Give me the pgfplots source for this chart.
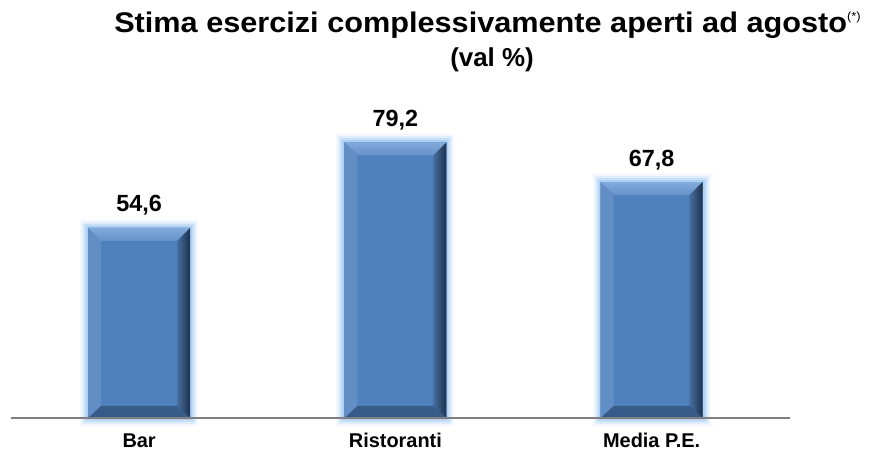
\documentclass[border=0pt]{standalone}
\usepackage{pgfplots}
\usepackage{pgfplotstable}
\pgfplotsset{compat=1.18}
\usepackage{fontspec}
\setmainfont{Liberation Sans}
\definecolor{barface}{RGB}{79,129,189}
\definecolor{bevtop}{RGB}{130,170,220}
\definecolor{bevtopin}{RGB}{100,145,200}
\definecolor{bevleft}{RGB}{98,142,198}
\definecolor{bevright}{RGB}{30,48,74}
\definecolor{bevrightin}{RGB}{70,110,160}
\definecolor{bevbot}{RGB}{56,92,138}
\definecolor{glowc}{RGB}{150,195,240}
\definecolor{axisgray}{RGB}{128,128,128}
\pgfplotstableread{
x y
0 54.6
1 79.2
2 67.8
}\datatable
\newcommand\bevelbar[2]{%
  \shade[top color=bevtop, bottom color=bevtopin] ([xshift=-51bp]axis cs:#1,#2) -- ([xshift=51bp]axis cs:#1,#2)
     -- ([xshift=38bp,yshift=-13bp]axis cs:#1,#2) -- ([xshift=-38bp,yshift=-13bp]axis cs:#1,#2) -- cycle;
  \fill[bevleft] ([xshift=-51bp]axis cs:#1,#2) -- ([xshift=-38bp,yshift=-13bp]axis cs:#1,#2)
     -- ([xshift=-38bp,yshift=12bp]axis cs:#1,0) -- ([xshift=-51bp]axis cs:#1,0) -- cycle;
  \shade[left color=bevrightin, right color=bevright] ([xshift=51bp]axis cs:#1,#2) -- ([xshift=38bp,yshift=-13bp]axis cs:#1,#2)
     -- ([xshift=38bp,yshift=12bp]axis cs:#1,0) -- ([xshift=51bp]axis cs:#1,0) -- cycle;
  \fill[bevbot] ([xshift=-51bp]axis cs:#1,0) -- ([xshift=-38bp,yshift=12bp]axis cs:#1,0)
     -- ([xshift=38bp,yshift=12bp]axis cs:#1,0) -- ([xshift=51bp]axis cs:#1,0) -- cycle;
}
\begin{document}
\begin{tikzpicture}[x=1bp,y=1bp]
\useasboundingbox (0,0) rectangle (875,457);
\node[anchor=base,font=\fontsize{28.5}{32}\selectfont\bfseries, inner sep=0pt, xscale=1.08] at (487.5,424)
  {Stima esercizi complessivamente aperti ad agosto\raisebox{12bp}{\fontsize{12}{14}\selectfont\mdseries(*)}};
\node[anchor=base,font=\fontsize{26}{30}\selectfont\bfseries, inner sep=0pt] at (492,390.5) {(val \%)};
\begin{axis}[
  at={(11bp,39bp)}, anchor=south west,
  scale only axis, width=779bp, height=348bp,
  xmin=-0.5, xmax=2.54, ymin=0, ymax=100,
  axis x line=bottom, axis y line=none,
  axis line style={draw=axisgray, line width=1.5bp, -},
  xtick=data, xticklabels={Bar,Ristoranti,Media P.E.},
  major tick length=0pt,
  xticklabel style={font=\fontsize{20}{24}\selectfont\bfseries, anchor=base, yshift=-30bp},
  ybar, bar width=102bp,
  nodes near coords,
  every node near coord/.append style={font=\fontsize{23.5}{27}\selectfont\bfseries, anchor=base, yshift=16bp,
     /pgf/number format/.cd, use comma, fixed, fixed zerofill, precision=1, assume math mode=true},
  clip=false,
  axis on top,
]
\addplot[draw=none, fill=barface,
  preaction={draw=glowc, line width=16bp, opacity=0.12},
  preaction={draw=glowc, line width=12bp, opacity=0.2},
  preaction={draw=glowc, line width=8bp, opacity=0.35},
  preaction={draw=glowc, line width=4bp, opacity=0.5}] table[x=x,y=y] {\datatable};
\pgfplotsinvokeforeach{0,1,2}{%
  \pgfplotstablegetelem{#1}{y}\of\datatable
  \edef\tmp{\noexpand\bevelbar{#1}{\pgfplotsretval}}%
  \tmp
}
\end{axis}
\end{tikzpicture}
\end{document}
